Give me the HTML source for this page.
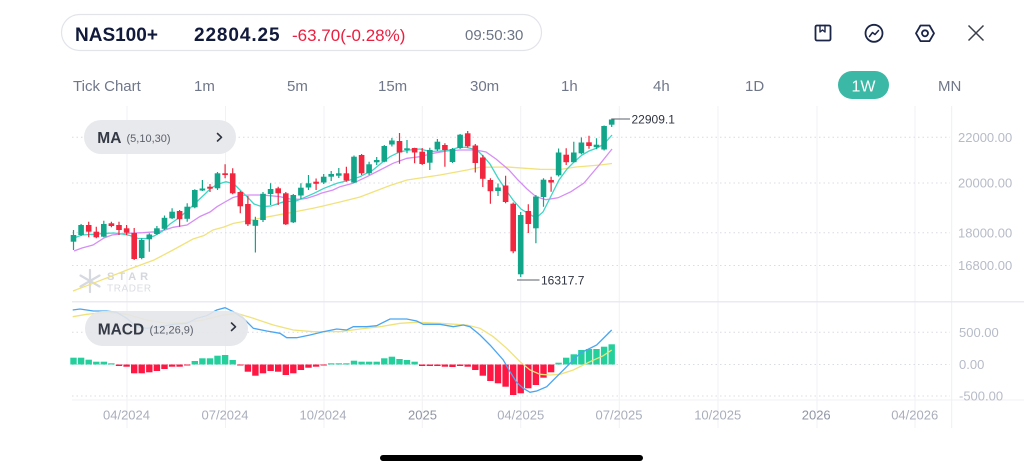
<!DOCTYPE html>
<html><head><meta charset="utf-8"><style>
html,body{margin:0;padding:0;background:#fff;}
svg{display:block;font-family:"Liberation Sans",sans-serif;}
</style></head><body>
<svg width="1024" height="470" viewBox="0 0 1024 470" xmlns="http://www.w3.org/2000/svg">
<rect width="1024" height="470" fill="#fff"/>
<!-- header pill -->
<rect x="61.5" y="14.5" width="480" height="36" rx="18" fill="#fff" stroke="#e2e4ea" stroke-width="1.2"/>
<text x="75" y="41" font-size="19" font-weight="bold" fill="#111a3b">NAS100+</text>
<text x="194" y="41" font-size="19" font-weight="bold" fill="#111a3b" letter-spacing="0.9">22804.25</text>
<text x="292" y="41" font-size="17" fill="#ea1f40">-63.70(-0.28%)</text>
<text x="465" y="40" font-size="15" fill="#6d7486">09:50:30</text>
<!-- icons -->
<g fill="none" stroke="#1b2547" stroke-width="1.8" stroke-linejoin="round" stroke-linecap="round">
<rect x="815.5" y="25.5" width="15" height="15" rx="1.5"/>
<path d="M820,25.5 V32 L822.5,30 L825,32 V25.5" stroke-width="1.4"/>
<circle cx="874" cy="33.3" r="8.5"/>
<path d="M869.5,36.5 L872.5,32.5 L875,34.5 L878.5,30.5" stroke-width="1.5"/>
<path d="M934,33.3 L929.5,25.5 L920.5,25.5 L916,33.3 L920.5,41.1 L929.5,41.1 Z"/>
<circle cx="925" cy="33.3" r="3"/>
</g>
<path d="M968.5,25.5 L983.5,40.5 M983.5,25.5 L968.5,40.5" stroke="#3a3f4a" stroke-width="1.5" fill="none"/>
<!-- tabs -->
<g font-size="15" fill="#6f778a">
<text x="73" y="91">Tick Chart</text>
<text x="194" y="91">1m</text>
<text x="287" y="91">5m</text>
<text x="378" y="91">15m</text>
<text x="470" y="91">30m</text>
<text x="561" y="91">1h</text>
<text x="653" y="91">4h</text>
<text x="745" y="91">1D</text>
<text x="938" y="91">MN</text>
</g>
<rect x="838" y="71" width="51" height="28" rx="14" fill="#3bb9a6"/>
<text x="863.5" y="91.5" font-size="16" fill="#fff" text-anchor="middle">1W</text>

<!-- vertical grid -->
<g stroke="#f1f2f5" stroke-width="1">
<line x1="127" y1="106" x2="127" y2="428"/>
<line x1="225.5" y1="106" x2="225.5" y2="428"/>
<line x1="324" y1="106" x2="324" y2="428"/>
<line x1="422.3" y1="106" x2="422.3" y2="428"/>
<line x1="520.7" y1="106" x2="520.7" y2="428"/>
<line x1="619.3" y1="106" x2="619.3" y2="428"/>
<line x1="718" y1="106" x2="718" y2="428"/>
<line x1="817" y1="106" x2="817" y2="428"/>
<line x1="915" y1="106" x2="915" y2="428"/>
<line x1="951.7" y1="106" x2="951.7" y2="428" stroke="#eceef2"/>
</g>
<!-- horizontal dotted grid -->
<g stroke="#d9dce3" stroke-width="1" stroke-dasharray="1.5 3">
<line x1="72" y1="137.3" x2="950" y2="137.3"/>
<line x1="72" y1="183" x2="950" y2="183"/>
<line x1="72" y1="232.7" x2="950" y2="232.7"/>
<line x1="72" y1="265.5" x2="950" y2="265.5"/>
<line x1="72" y1="332.3" x2="950" y2="332.3"/>
<line x1="72" y1="364.5" x2="950" y2="364.5"/>
<line x1="72" y1="396" x2="950" y2="396"/>
</g>
<line x1="72" y1="301.8" x2="1024" y2="301.8" stroke="#e4e4ef" stroke-width="1.2"/>
<line x1="72" y1="400" x2="1024" y2="400" stroke="#f2f2f6" stroke-width="1"/>

<!-- right axis labels -->
<g font-size="13" fill="#b6bbc7">
<text x="958" y="142">22000.00</text>
<text x="958" y="187.7">20000.00</text>
<text x="958" y="237.4">18000.00</text>
<text x="958" y="270.2">16800.00</text>
<text x="959" y="337">500.00</text>
<text x="959" y="369.2">0.00</text>
<text x="959" y="400.5">-500.00</text>
</g>
<!-- date labels -->
<g font-size="13" fill="#a9aebb" text-anchor="middle">
<text x="126.5" y="419.5">04/2024</text>
<text x="225" y="419.5">07/2024</text>
<text x="323" y="419.5">10/2024</text>
<text x="422.5" y="419.5" fill="#8f95a3">2025</text>
<text x="520.7" y="419.5">04/2025</text>
<text x="619" y="419.5">07/2025</text>
<text x="717.7" y="419.5">10/2025</text>
<text x="816.2" y="419.5" fill="#8f95a3">2026</text>
<text x="914.7" y="419.5">04/2026</text>
</g>

<!-- watermark -->
<g stroke="#d6d9df" stroke-width="2.2" stroke-linecap="round" fill="none">
<path d="M90,270 V292 M80.5,275.5 L99.5,286.5 M99.5,275.5 L80.5,286.5"/>
</g>
<text x="107" y="280" font-size="11" font-weight="bold" fill="#d4d7dd" letter-spacing="4">STAR</text>
<text x="107" y="291.5" font-size="10" fill="#d9dce1" letter-spacing="0.6">TRADER</text>

<!-- MA lines -->
<polyline fill="none" stroke="#f2e27c" stroke-width="1.3" points="73,291 93,283.3 127,270 154,260 173,250 193,239 204,235.5 213,230 224,227 233,223.5 254,219.5 260,218.3 287,213.3 313,208.3 321,206.5 340,202 360,197 373,192 390,185.5 407,180 440,175 467,170 480,167.3 507,167 540,169.3 560,169.5 576,167 600,165 612,163.5"/>
<polyline fill="none" stroke="#d68ef5" stroke-width="1.3" points="74,251 82,248 93,245 104,238 112,235 127,233.3 143,232.7 157,231.7 165,230 173,227.3 187,225 200,216.5 210,212 217,206.7 225,202 233,197.5 241,195.5 250,195 262,195 270,195.7 280,196.7 290,199 300,199.3 307,198.3 317,195 321,193.3 333,190 340,186.7 353,183.3 367,176.7 380,170 393,163.3 407,158.3 420,156.7 433,153.3 447,151 460,150 476,150 486,152 496,159 509,170 518,180 527,189 536,196.7 546,199.7 558,197.8 571,191.7 584,183 600,164 612,149"/>
<polyline fill="none" stroke="#3dd6c6" stroke-width="1.3" points="74,238 82,235 90,234.5 98,234 106,233.3 114,233 122,234 130,235.5 138,238.5 146,238.5 154,236 162,231.5 170,224 178,218.5 187,211 197,201.5 205,194 210,189 217,184.5 226,181.7 234,184 240,190 247,196.7 254,204 262,206.7 271,206 284,201.7 296,201 304,197.7 314,193.3 324,188.3 337,183.3 350,180 360,176.7 373,170 383,161.7 390,156.7 400,151.7 410,150 420,149 430,151.5 440,151 450,150 460,147 467,147.5 477,150 483,156 490,164 498,178 506,190 513,200 521,209 529,214 536,218 543,212 550,198 559,180 567,169 574,162 582,155 589,151 597,148 604,144 612,135"/>

<!-- green candles -->
<g fill="#12a58a" stroke="#12a58a">
<path stroke-width="1.2" fill="none" d="M73.5,230V250M81.1,224V236M103.8,220.7V237.3M141.7,238.3V259.3M149.3,233.3V251.7M156.9,226V235M164.5,215.5V230M172.1,208.3V219M187.2,203.3V221.7M194.8,189.3V208.3M202.4,180V191M217.5,172V190M255.4,216.7V252.5M263,192V222M270.6,183.3V205M293.3,194V223M300.9,183.3V199M308.5,175V190M323.7,174V184M331.2,171V181M338.8,168V178M354,155.5V183M369.1,161.7V175M376.7,157V165M384.3,145V162.3M391.9,138V146.5M407,140V153.3M429.8,147.7V170M437.4,139V151M452.5,148V163M460.1,134V149M498,183.5V196M520.7,212V277M535.9,195V243.3M543.5,178.3V206.7M558.6,148.5V176.5M573.8,141.7V162.5M581.4,137.5V154.3M596.5,138.3V149.3M604.1,125.5V150.5M611.7,118.5V127"/>
<g stroke="none">
<rect x="70.7" y="235" width="5.6" height="6.7"/><rect x="78.3" y="225" width="5.6" height="10"/><rect x="101" y="224" width="5.6" height="12.7"/><rect x="138.9" y="240" width="5.6" height="18"/><rect x="146.5" y="234.5" width="5.6" height="4.8"/><rect x="154.1" y="228.3" width="5.6" height="5.7"/><rect x="161.7" y="217.8" width="5.6" height="11"/><rect x="169.3" y="211.7" width="5.6" height="6.6"/><rect x="184.4" y="206.7" width="5.6" height="12.1"/><rect x="192" y="190" width="5.6" height="17.3"/><rect x="199.6" y="188.5" width="5.6" height="2"/><rect x="214.7" y="173.3" width="5.6" height="15"/><rect x="252.6" y="220" width="5.6" height="5.8"/><rect x="260.2" y="193.8" width="5.6" height="26.2"/><rect x="267.8" y="189" width="5.6" height="5"/><rect x="290.5" y="195" width="5.6" height="27.3"/><rect x="298.1" y="187.7" width="5.6" height="7.8"/><rect x="305.7" y="183.3" width="5.6" height="4.2"/><rect x="320.9" y="176.7" width="5.6" height="5.8"/><rect x="328.4" y="174" width="5.6" height="2.7"/><rect x="336" y="173.3" width="5.6" height="2.4"/><rect x="351.2" y="156.7" width="5.6" height="25.8"/><rect x="366.3" y="164.3" width="5.6" height="9"/><rect x="373.9" y="160" width="5.6" height="2.3"/><rect x="381.5" y="146" width="5.6" height="15.7"/><rect x="389.1" y="140.5" width="5.6" height="4"/><rect x="404.2" y="148.3" width="5.6" height="1.7"/><rect x="427" y="150" width="5.6" height="12.7"/><rect x="434.6" y="141.7" width="5.6" height="7.8"/><rect x="449.7" y="149" width="5.6" height="13"/><rect x="457.3" y="134.7" width="5.6" height="13.3"/><rect x="495.2" y="187.5" width="5.6" height="3.5"/><rect x="517.9" y="215" width="5.6" height="59.3"/><rect x="533.1" y="196.5" width="5.6" height="31.8"/><rect x="540.7" y="179.7" width="5.6" height="17.3"/><rect x="555.8" y="152.5" width="5.6" height="22.8"/><rect x="571" y="152.5" width="5.6" height="9.7"/><rect x="578.6" y="142.5" width="5.6" height="10.8"/><rect x="593.7" y="144.7" width="5.6" height="2.5"/><rect x="601.3" y="126" width="5.6" height="23.5"/><rect x="608.9" y="119.5" width="5.6" height="5.2"/>
</g></g>
<!-- red candles -->
<g fill="#f0273f" stroke="#f0273f">
<path stroke-width="1.2" fill="none" d="M88.7,221.7V237.3M96.3,226.7V238.3M111.4,221.7V227.3M119,221.7V235M126.6,225V235M134.2,228V260M179.6,210V226.7M210,184V192M225.1,164.3V178.3M232.7,168.3V194.3M240.3,191V213.3M247.9,196V226M278.2,186.7V205M285.8,192V225M316.1,178.5V190M346.4,166.7V181.7M361.6,154V175M399.5,133V163.8M414.6,147.7V163.3M422.2,148V165M444.9,143.3V166.7M467.7,131V147.5M475.3,144V172.5M482.8,155V187M490.4,178.3V203.7M505.6,175.8V203.3M513.2,202.5V253.3M528.3,204.2V233M551.1,176.7V191.7M566.2,148.3V165M589,135.8V148.8"/>
<g stroke="none">
<rect x="85.9" y="225" width="5.6" height="6.7"/><rect x="93.5" y="231.7" width="5.6" height="5.6"/><rect x="108.6" y="223.3" width="5.6" height="2.7"/><rect x="116.2" y="225" width="5.6" height="5"/><rect x="123.8" y="228.3" width="5.6" height="4.4"/><rect x="131.4" y="233" width="5.6" height="26"/><rect x="176.8" y="211" width="5.6" height="8.2"/><rect x="207.2" y="186.7" width="5.6" height="2"/><rect x="222.3" y="173.3" width="5.6" height="1.7"/><rect x="229.9" y="173.3" width="5.6" height="20"/><rect x="237.5" y="192" width="5.6" height="14.3"/><rect x="245.1" y="204" width="5.6" height="20.3"/><rect x="275.4" y="188.3" width="5.6" height="5"/><rect x="283" y="193.3" width="5.6" height="31"/><rect x="313.3" y="181.7" width="5.6" height="2.1"/><rect x="343.6" y="173.3" width="5.6" height="7.2"/><rect x="358.8" y="155" width="5.6" height="18.3"/><rect x="396.7" y="141" width="5.6" height="11.5"/><rect x="411.8" y="148" width="5.6" height="4.5"/><rect x="419.4" y="151.7" width="5.6" height="12.3"/><rect x="442.1" y="145" width="5.6" height="5"/><rect x="464.9" y="133.3" width="5.6" height="13"/><rect x="472.5" y="145.5" width="5.6" height="17.5"/><rect x="480" y="157.5" width="5.6" height="21.3"/><rect x="487.6" y="180" width="5.6" height="11.2"/><rect x="502.8" y="185.5" width="5.6" height="16.5"/><rect x="510.4" y="203.7" width="5.6" height="47.6"/><rect x="525.5" y="211" width="5.6" height="13"/><rect x="548.3" y="180" width="5.6" height="2.5"/><rect x="563.4" y="154.7" width="5.6" height="7.5"/><rect x="586.2" y="142.3" width="5.6" height="3.7"/>
</g></g>

<!-- high / low markers -->
<line x1="612" y1="119" x2="630" y2="119" stroke="#5a5f6a" stroke-width="1"/>
<text x="631.5" y="123.3" font-size="12" fill="#2f3440">22909.1</text>
<line x1="517" y1="280" x2="539.5" y2="280" stroke="#5a5f6a" stroke-width="1"/>
<text x="541" y="284.3" font-size="12" fill="#2f3440">16317.7</text>

<!-- MA pill -->
<rect x="84" y="120" width="152" height="34" rx="17" fill="#e8e9ec"/>
<text x="97.3" y="143" font-size="15.5" font-weight="bold" fill="#343a45">MA</text>
<text x="126.5" y="142" font-size="11" fill="#5b606b">(5,10,30)</text>
<path d="M217.5,133.5 L221.5,137.3 L217.5,141" fill="none" stroke="#2d3340" stroke-width="1.6" stroke-linecap="round" stroke-linejoin="round"/>

<!-- MACD histogram -->
<g fill="#25cf9c">
<rect x="70.3" y="357.7" width="6.4" height="6.8"/><rect x="77.9" y="357.7" width="6.4" height="6.8"/><rect x="85.5" y="359.7" width="6.4" height="4.8"/><rect x="93.1" y="361.7" width="6.4" height="2.8"/><rect x="100.6" y="361.7" width="6.4" height="2.8"/><rect x="108.2" y="363.3" width="6.4" height="1.2"/>
<rect x="191.6" y="361" width="6.4" height="3.5"/><rect x="199.2" y="358.3" width="6.4" height="6.2"/><rect x="206.8" y="358.3" width="6.4" height="6.2"/><rect x="214.3" y="355.7" width="6.4" height="8.8"/><rect x="221.9" y="355" width="6.4" height="9.5"/><rect x="229.5" y="360" width="6.4" height="4.5"/>
<rect x="328" y="363.3" width="6.4" height="1.2"/><rect x="335.6" y="363.3" width="6.4" height="1.2"/><rect x="343.2" y="363.3" width="6.4" height="1.2"/><rect x="350.8" y="360.7" width="6.4" height="3.8"/><rect x="358.4" y="361.7" width="6.4" height="2.8"/><rect x="365.9" y="361.7" width="6.4" height="2.8"/><rect x="373.5" y="361.7" width="6.4" height="2.8"/><rect x="381.1" y="358.3" width="6.4" height="6.2"/><rect x="388.7" y="356.7" width="6.4" height="7.8"/><rect x="396.3" y="359" width="6.4" height="5.5"/><rect x="403.8" y="360" width="6.4" height="4.5"/><rect x="411.4" y="361.7" width="6.4" height="2.8"/>
<rect x="555.4" y="362.7" width="6.4" height="1.8"/><rect x="563" y="357.7" width="6.4" height="6.8"/><rect x="570.6" y="354.3" width="6.4" height="10.2"/><rect x="578.2" y="350" width="6.4" height="14.5"/><rect x="585.8" y="349" width="6.4" height="15.5"/><rect x="593.3" y="349" width="6.4" height="15.5"/><rect x="600.9" y="346.7" width="6.4" height="17.8"/><rect x="608.5" y="344.3" width="6.4" height="20.2"/>
</g>
<g fill="#ff1744">
<rect x="115.8" y="364.5" width="6.4" height="1.5"/><rect x="123.4" y="364.5" width="6.4" height="2.2"/><rect x="131" y="364.5" width="6.4" height="8.8"/><rect x="138.5" y="364.5" width="6.4" height="8.8"/><rect x="146.1" y="364.5" width="6.4" height="7.8"/><rect x="153.7" y="364.5" width="6.4" height="6.5"/><rect x="161.3" y="364.5" width="6.4" height="4.5"/><rect x="168.9" y="364.5" width="6.4" height="2.2"/><rect x="176.4" y="364.5" width="6.4" height="2.2"/><rect x="184" y="364.5" width="6.4" height="1"/>
<rect x="237.1" y="364.5" width="6.4" height="1"/><rect x="244.7" y="364.5" width="6.4" height="7.2"/><rect x="252.2" y="364.5" width="6.4" height="11.2"/><rect x="259.8" y="364.5" width="6.4" height="8.8"/><rect x="267.4" y="364.5" width="6.4" height="6.5"/><rect x="275" y="364.5" width="6.4" height="7.2"/><rect x="282.6" y="364.5" width="6.4" height="10.5"/><rect x="290.1" y="364.5" width="6.4" height="8.8"/><rect x="297.7" y="364.5" width="6.4" height="5.5"/><rect x="305.3" y="364.5" width="6.4" height="3.2"/><rect x="312.9" y="364.5" width="6.4" height="2.2"/><rect x="320.5" y="364.5" width="6.4" height="1"/>
<rect x="419" y="364.5" width="6.4" height="1.5"/><rect x="426.6" y="364.5" width="6.4" height="1.5"/><rect x="434.2" y="364.5" width="6.4" height="1.5"/><rect x="441.7" y="364.5" width="6.4" height="2.2"/><rect x="449.3" y="364.5" width="6.4" height="2.5"/><rect x="456.9" y="364.5" width="6.4" height="1.5"/><rect x="464.5" y="364.5" width="6.4" height="2.2"/><rect x="472.1" y="364.5" width="6.4" height="5.5"/><rect x="479.6" y="364.5" width="6.4" height="11.2"/><rect x="487.2" y="364.5" width="6.4" height="16.5"/><rect x="494.8" y="364.5" width="6.4" height="18.8"/><rect x="502.4" y="364.5" width="6.4" height="22.2"/><rect x="510" y="364.5" width="6.4" height="30.5"/><rect x="517.5" y="364.5" width="6.4" height="28.8"/><rect x="525.1" y="364.5" width="6.4" height="23.8"/><rect x="532.7" y="364.5" width="6.4" height="20.5"/><rect x="540.3" y="364.5" width="6.4" height="13.2"/><rect x="547.9" y="364.5" width="6.4" height="7.8"/>
</g>
<!-- MACD lines -->
<polyline fill="none" stroke="#f0e27a" stroke-width="1.3" points="72.7,316.7 86.7,314.3 106.7,312.3 126.7,314.3 146.7,320 166.7,323.3 186.7,322.3 203.3,320 220,315.7 236.7,313.3 253.3,318.3 273.3,325 293.3,330 313.3,331.7 333.3,331.5 340,331.7 360,329 380,326.7 400,323.3 416.7,322.3 440,323.3 466.7,325 480,328.3 493.3,336.7 506.7,348.3 520,361.7 530,370 540,374.3 550,375 560,374.3 573.3,370 590,361.7 603.3,355.7 611.7,350"/>
<polyline fill="none" stroke="#4aa6f2" stroke-width="1.3" points="72.7,310 80,309 93.3,311 106.7,311 116.7,312.3 126.7,318.3 136.7,326.7 146.7,328.3 160,326.7 173.3,324.3 186.7,323.3 196.7,318.3 206.7,315.7 216.7,310 225,307.7 233.3,311.7 243.3,318.3 253.3,328.3 266.7,331 280,333.3 286.7,337.7 296.7,337.7 310,335 323.3,331.7 336.7,329 346.7,330 353.3,326.7 366.7,326.7 376.7,325.7 390,319 406.7,319 416.7,321 423.3,324.3 440,324.3 453.3,326.7 463.3,325 470,326.7 480,335 490,345 503.3,360 510,371.7 516.7,382.3 523.3,388.3 530,392.3 536.7,391 546.7,386.7 556.7,376.7 566.7,366.7 580,353.3 596.7,345 606.7,335 611.7,330"/>

<!-- MACD pill -->
<rect x="85" y="311" width="163" height="35" rx="17.5" fill="#e4e5e9" fill-opacity="0.9"/>
<text x="97.7" y="334.5" font-size="15.5" font-weight="bold" fill="#343a45">MACD</text>
<text x="149.5" y="333.5" font-size="11" fill="#5b606b">(12,26,9)</text>
<path d="M231.5,323 L235.5,326.8 L231.5,330.5" fill="none" stroke="#2d3340" stroke-width="1.6" stroke-linecap="round" stroke-linejoin="round"/>

<!-- home indicator -->
<rect x="380" y="455" width="263" height="6" rx="3" fill="#000"/>
</svg>
</body></html>
